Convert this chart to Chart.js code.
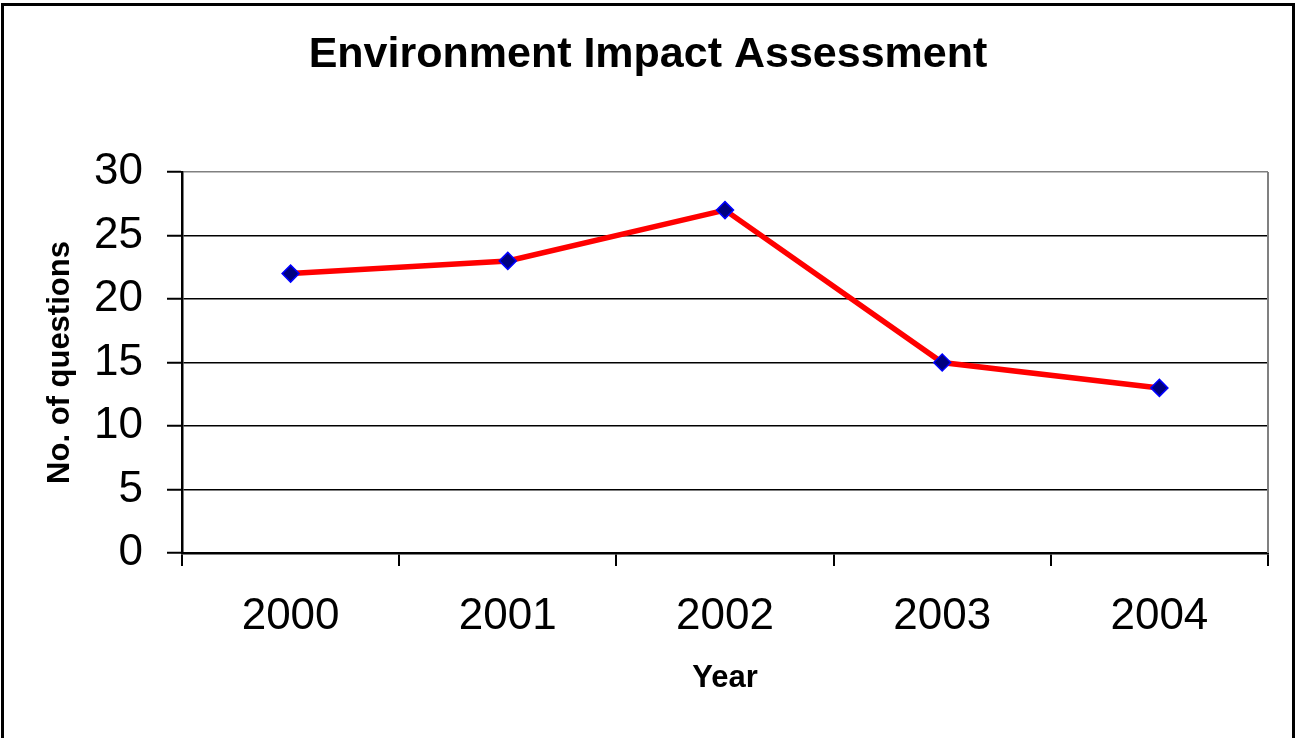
<!DOCTYPE html>
<html lang="en">
<head>
    <meta charset="UTF-8">
    <title>Environment Impact Assessment</title>
    <script src="https://cdn.jsdelivr.net/npm/chart.js@4.4.1/dist/chart.umd.min.js"></script>
    <style>
        html, body {
            margin: 0;
            padding: 0;
            background: #ffffff;
            overflow: hidden;
        }
        .chart-container {
            position: relative;
            width: 1296px;
            height: 738px;
        }
    </style>
</head>
<body>
    <div class="chart-container">
        <canvas id="eiaChart"></canvas>
    </div>

    <script>
        // dados do gráfico
        const years = ['2000', '2001', '2002', '2003', '2004'];
        const questions = [22, 23, 27, 15, 13];
        const yTicks = [0, 5, 10, 15, 20, 25, 30];

        const fontFamily = "'Liberation Sans', Arial, sans-serif";
        Chart.defaults.font.family = fontFamily;
        Chart.defaults.color = '#000000';

        // fundo branco, moldura externa e borda cinza do plot
        const framePlugin = {
            id: 'frame',
            beforeDraw(chart) {
                const ctx = chart.ctx;
                ctx.save();
                ctx.fillStyle = '#ffffff';
                ctx.fillRect(0, 0, chart.width, chart.height);
                ctx.restore();
            },
            beforeDatasetsDraw(chart) {
                const ctx = chart.ctx;
                const a = chart.chartArea;
                ctx.save();
                ctx.strokeStyle = '#808080';
                ctx.lineWidth = 2;
                ctx.beginPath();
                ctx.moveTo(a.right, a.top);
                ctx.lineTo(a.right, a.bottom);
                ctx.stroke();
                ctx.restore();
            },
            afterDraw(chart) {
                const ctx = chart.ctx;
                ctx.save();
                ctx.strokeStyle = '#000000';
                ctx.lineWidth = 3;
                ctx.strokeRect(2.5, 4.5, chart.width - 5, chart.height + 50);
                ctx.restore();
            }
        };

        const ctx = document.getElementById('eiaChart').getContext('2d');
        const chart = new Chart(ctx, {
            type: 'line',
            data: {
                labels: years,
                datasets: [{
                    label: 'No. of questions',
                    data: questions,
                    borderColor: '#ff0000',
                    borderWidth: 5.5,
                    tension: 0,
                    pointStyle: 'rectRot',
                    pointRadius: 8.5,
                    pointHoverRadius: 8.5,
                    pointBackgroundColor: '#000080',
                    pointBorderColor: '#0000ff',
                    pointBorderWidth: 1.5,
                    fill: false
                }]
            },
            options: {
                responsive: true,
                maintainAspectRatio: false,
                animation: false,
                layout: {
                    padding: { left: 28, right: 28, top: 0, bottom: 0 }
                },
                plugins: {
                    legend: { display: false },
                    tooltip: { enabled: false },
                    title: {
                        display: true,
                        text: 'Environment Impact Assessment',
                        color: '#000000',
                        font: { size: 43, weight: 'bold', family: fontFamily },
                        padding: { top: 29, bottom: 91.4 }
                    }
                },
                scales: {
                    x: {
                        offset: true,
                        afterFit(scale) { scale.height = 185; },
                        grid: {
                            offset: true,
                            drawOnChartArea: false,
                            drawTicks: true,
                            tickLength: 13,
                            color: '#000000',
                            lineWidth: 2
                        },
                        border: { color: '#000000', width: 2.5 },
                        ticks: {
                            font: { size: 44 },
                            color: '#000000',
                            padding: 24,
                            maxRotation: 0,
                            autoSkip: false
                        },
                        title: {
                            display: true,
                            text: 'Year',
                            color: '#000000',
                            font: { size: 31, weight: 'bold' },
                            padding: { top: 0, bottom: 41 }
                        }
                    },
                    y: {
                        min: 0,
                        max: 30,
                        afterFit(scale) { scale.width = 154; },
                        afterBuildTicks(scale) {
                            scale.ticks = yTicks.map(v => ({ value: v }));
                        },
                        grid: {
                            color: c => (c.tick && c.tick.value === 30) ? '#808080' : '#000000',
                            lineWidth: 1.5,
                            tickColor: '#000000',
                            tickWidth: 2,
                            tickLength: 15
                        },
                        border: { color: '#000000', width: 2.5 },
                        ticks: {
                            font: { size: 44 },
                            color: '#000000',
                            padding: 24
                        },
                        title: {
                            display: true,
                            text: 'No. of questions',
                            color: '#000000',
                            font: { size: 31, weight: 'bold' },
                            padding: { top: 14, bottom: 0 }
                        }
                    }
                }
            },
            plugins: [framePlugin]
        });
    </script>
</body>
</html>
